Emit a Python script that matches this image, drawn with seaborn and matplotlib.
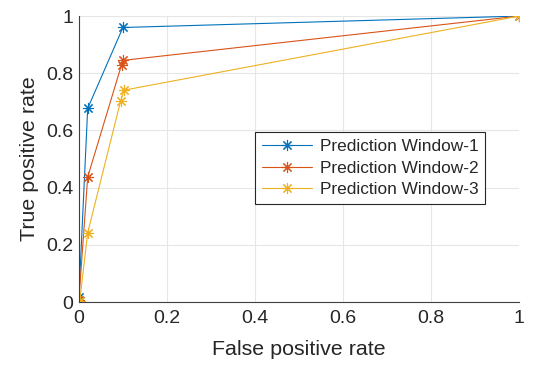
import numpy as np
import pandas as pd
import matplotlib
matplotlib.use("Agg")
import matplotlib.pyplot as plt
import seaborn as sns

series_names = ["Prediction Window-1", "Prediction Window-2", "Prediction Window-3"]
fpr_w1 = [0.0, 0.0, 0.02, 0.10, 1.0]
tpr_w1 = [0.0, 0.016, 0.677, 0.96, 1.0]
fpr_w2 = [0.0, 0.0, 0.02, 0.097, 0.10, 1.0]
tpr_w2 = [0.0, 0.008, 0.437, 0.83, 0.845, 1.0]
fpr_w3 = [0.0, 0.002, 0.02, 0.095, 0.103, 1.0]
tpr_w3 = [0.0, 0.005, 0.242, 0.704, 0.741, 1.0]
colors = ["#0072BD", "#D95319", "#EDB120"]
ticks = [0, 0.2, 0.4, 0.6, 0.8, 1]
tick_labels = ["0", "0.2", "0.4", "0.6", "0.8", "1"]

frames = []
for name, f, t in zip(series_names, [fpr_w1, fpr_w2, fpr_w3], [tpr_w1, tpr_w2, tpr_w3]):
    frames.append(pd.DataFrame({"fpr": f, "tpr": t, "series": name, "order": range(len(f))}))
df = pd.concat(frames, ignore_index=True)

sns.set_style("white")
plt.rcParams["font.family"] = ["Liberation Sans", "DejaVu Sans"]

fig = plt.figure(figsize=(5.33, 3.65), dpi=100)
ax = fig.add_axes([0.148, 0.1726, 0.826, 0.7834])

asterisk = (8, 2, 0)
sns.lineplot(data=df, x="fpr", y="tpr", hue="series", palette=colors, sort=False,
             estimator=None, units="series", marker=asterisk, markersize=8, linewidth=0.8,
             markeredgewidth=0.8, ax=ax, legend=False)
for line, c in zip(ax.lines, colors):
    line.set_markeredgecolor(c)
    line.set_markerfacecolor(c)

ax.set_xlim(0, 1)
ax.set_ylim(0, 1)
ax.set_xticks(ticks)
ax.set_xticklabels(tick_labels)
ax.set_yticks(ticks)
ax.set_yticklabels(tick_labels)
ax.grid(True, color="#e6e6e6", linewidth=0.8)
ax.set_axisbelow(True)
for s in ["top", "right"]:
    ax.spines[s].set_visible(False)
for s in ["left", "bottom"]:
    ax.spines[s].set_color("#404040")
    ax.spines[s].set_linewidth(0.8)
ax.tick_params(direction="in", length=3.5, width=0.8, labelsize=14, colors="#404040",
               labelcolor="#262626")
ax.tick_params(axis="x", pad=6)
ax.tick_params(axis="y", pad=4)
ax.set_xlabel("False positive rate", fontsize=15.4, color="#262626", labelpad=9)
ax.set_ylabel("True positive rate", fontsize=15.4, color="#262626", labelpad=5)

handles = [plt.Line2D([], [], color=c, linewidth=0.8, marker=asterisk, markersize=8,
                      markeredgewidth=0.8, markeredgecolor=c) for c in colors]
leg = ax.legend(handles, series_names, loc="upper left", bbox_to_anchor=(0.4, 0.594),
                fontsize=12.4, frameon=True, fancybox=False, edgecolor="#262626",
                framealpha=1, borderpad=0.4, labelspacing=0.38, handlelength=2.9,
                handletextpad=0.45, borderaxespad=0)
leg.get_frame().set_linewidth(0.8)

fig.savefig("out.png", dpi=100)
